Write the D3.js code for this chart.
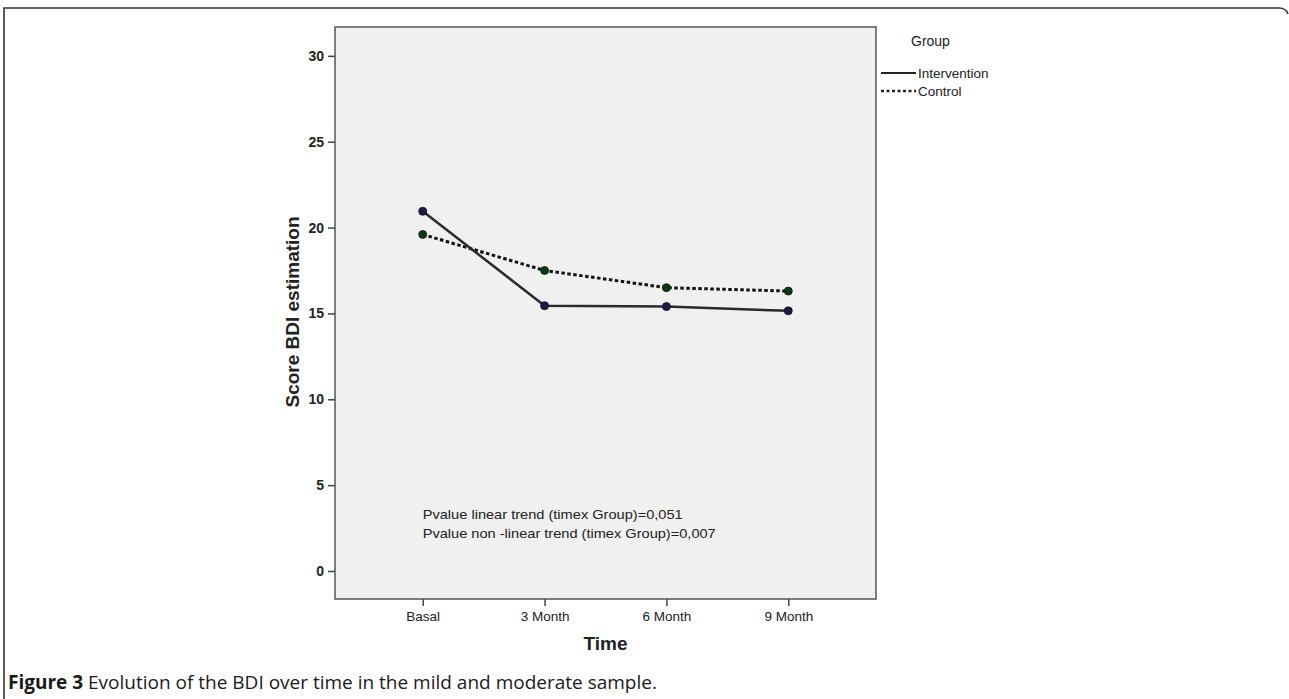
<!DOCTYPE html>
<html>
<head>
<meta charset="utf-8">
<script src="https://cdn.jsdelivr.net/npm/d3@7"></script>
<style>
  body { margin: 0; background: #fff; }
  svg { display: block; }
</style>
</head>
<body>
<svg width="1289" height="699"></svg>
<script>
// data
var timePoints = ["Basal", "3 Month", "6 Month", "9 Month"];
var intervention = [20.95, 15.45, 15.4, 15.15];
var control = [19.6, 17.5, 16.5, 16.3];
var yTicks = [0, 5, 10, 15, 20, 25, 30];
var groupNames = ["Intervention", "Control"];
var notes = ["Pvalue linear trend (timex Group)=0,051",
             "Pvalue non -linear trend (timex Group)=0,007"];

var svg = d3.select("svg");
var font = "Liberation Sans, Arial, sans-serif";

// outer frame of the figure
svg.append("path")
    .attr("d", "M4,699 V8 H1279 Q1286,8 1288,14")
    .attr("fill", "none")
    .attr("stroke", "#333")
    .attr("stroke-width", 1.6);

var plot = {left: 335, right: 876, top: 27, bottom: 599};

var x = d3.scalePoint()
    .domain(timePoints)
    .range([plot.left, plot.right])
    .padding(0.72);

var y = d3.scaleLinear()
    .domain([-1.63, 31.68])
    .range([plot.bottom, plot.top]);

// plot area
svg.append("rect")
    .attr("x", plot.left)
    .attr("y", plot.top)
    .attr("width", plot.right - plot.left)
    .attr("height", plot.bottom - plot.top)
    .attr("fill", "#f0f0f0")
    .attr("stroke", "#555")
    .attr("stroke-width", 1.5);

// y axis
var yAxis = svg.append("g")
    .attr("transform", "translate(" + plot.left + ",0)")
    .call(d3.axisLeft(y).tickValues(yTicks).tickSize(7).tickPadding(4));
yAxis.select(".domain").remove();
yAxis.selectAll("line").attr("stroke", "#444").attr("stroke-width", 1.5);
yAxis.selectAll("text")
    .attr("font-family", font)
    .attr("font-size", 14)
    .attr("font-weight", "bold")
    .attr("fill", "#222");

// x axis
var xAxis = svg.append("g")
    .attr("transform", "translate(0," + plot.bottom + ")")
    .call(d3.axisBottom(x).tickSize(7).tickPadding(5));
xAxis.select(".domain").remove();
xAxis.selectAll("line").attr("stroke", "#444").attr("stroke-width", 1.5);
xAxis.selectAll("text")
    .attr("font-family", font)
    .attr("font-size", 13.5)
    .attr("fill", "#222");

// axis titles
svg.append("text")
    .attr("transform", "translate(299,312) rotate(-90)")
    .attr("text-anchor", "middle")
    .attr("font-family", font)
    .attr("font-size", 19)
    .attr("font-weight", "bold")
    .attr("fill", "#222")
    .text("Score BDI estimation");

svg.append("text")
    .attr("x", (x("3 Month") + x("6 Month")) / 2)
    .attr("y", 650)
    .attr("text-anchor", "middle")
    .attr("font-family", font)
    .attr("font-size", 19)
    .attr("font-weight", "bold")
    .attr("fill", "#222")
    .text("Time");

// lines
var line = d3.line()
    .x(function (d, i) { return x(timePoints[i]); })
    .y(function (d) { return y(d); });

svg.append("path")
    .datum(control)
    .attr("d", line)
    .attr("fill", "none")
    .attr("stroke", "#111")
    .attr("stroke-width", 3)
    .attr("stroke-dasharray", "3.5,2.5");

svg.append("path")
    .datum(intervention)
    .attr("d", line)
    .attr("fill", "none")
    .attr("stroke", "#2a2a2a")
    .attr("stroke-width", 2.5);

// markers
svg.selectAll(".dotC")
    .data(control)
    .enter().append("circle")
    .attr("class", "dotC")
    .attr("cx", function (d, i) { return x(timePoints[i]); })
    .attr("cy", function (d) { return y(d); })
    .attr("r", 4)
    .attr("fill", "#0a3a12")
    .attr("stroke", "#0a1a0a")
    .attr("stroke-width", 0.8);

svg.selectAll(".dotI")
    .data(intervention)
    .enter().append("circle")
    .attr("class", "dotI")
    .attr("cx", function (d, i) { return x(timePoints[i]); })
    .attr("cy", function (d) { return y(d); })
    .attr("r", 4)
    .attr("fill", "#1c1c45")
    .attr("stroke", "#0a0a22")
    .attr("stroke-width", 0.8);

// p-value notes
svg.selectAll(".note")
    .data(notes)
    .enter().append("text")
    .attr("class", "note")
    .attr("x", x("Basal"))
    .attr("y", function (d, i) { return 519 + i * 19; })
    .attr("font-family", font)
    .attr("font-size", 13)
    .attr("fill", "#222")
    .attr("textLength", function (d, i) { return i ? 293 : 260; })
    .attr("lengthAdjust", "spacingAndGlyphs")
    .text(function (d) { return d; });

// legend
svg.append("text")
    .attr("x", 911)
    .attr("y", 46)
    .attr("font-family", font)
    .attr("font-size", 14)
    .attr("fill", "#222")
    .text("Group");

var legend = svg.selectAll(".legend")
    .data(groupNames)
    .enter().append("g")
    .attr("class", "legend")
    .attr("transform", function (d, i) { return "translate(881," + (73 + i * 18) + ")"; });

legend.append("line")
    .attr("x1", 0).attr("x2", 35)
    .attr("stroke", "#222")
    .attr("stroke-width", function (d, i) { return i ? 2.5 : 2; })
    .attr("stroke-dasharray", function (d, i) { return i ? "3,2.5" : null; });

legend.append("text")
    .attr("x", 37)
    .attr("y", 5)
    .attr("font-family", font)
    .attr("font-size", 13.5)
    .attr("fill", "#222")
    .text(function (d) { return d; });

// caption
var cap = svg.append("text")
    .attr("x", 8)
    .attr("y", 689)
    .attr("font-family", "Open Sans, sans-serif")
    .attr("font-size", 19)
    .attr("fill", "#1a1a1a");
cap.append("tspan").attr("font-weight", "bold").text("Figure 3");
cap.append("tspan").text(" Evolution of the BDI over time in the mild and moderate sample.");
</script>
</body>
</html>
